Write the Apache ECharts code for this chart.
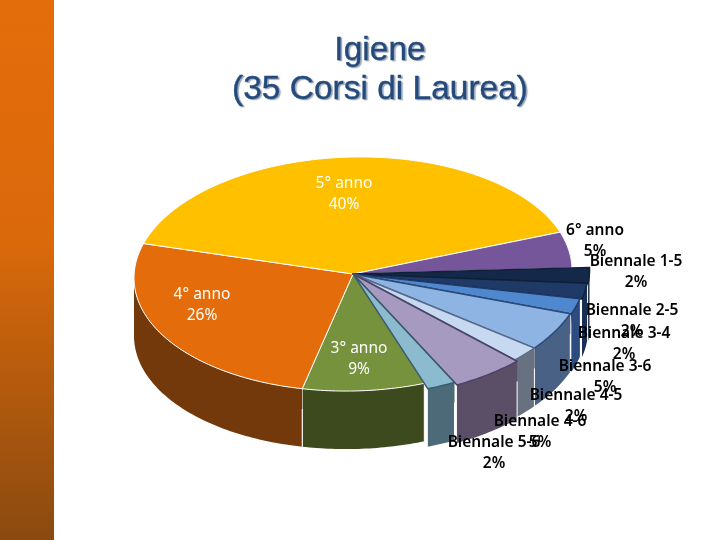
<!DOCTYPE html>
<html><head><meta charset="utf-8">
<style>html,body{margin:0;padding:0;background:#fff}#c{width:720px;height:540px}</style>
<script src="https://cdn.jsdelivr.net/npm/echarts@6/dist/echarts.min.js"></script>
</head><body><div id="c"></div>
<script>
const categories = ['3° anno','4° anno','5° anno','6° anno','Biennale 1-5','Biennale 2-5','Biennale 3-4','Biennale 3-6','Biennale 4-5','Biennale 4-6','Biennale 5-6'];
const values = [9,26,40,5,2,2,2,5,2,5,2];
const topColors = ['#76923C','#E46C0A','#FFC000','#75569A','#14294A','#1F3A66','#5088D0','#8DB4E2','#C6D9F1','#A69AC0','#8CBBCF'];
const wallColors = ['#3D4A1E','#74390A','#A67C00','#4A3566','#0E1D33','#1A2F55','#2C4B7E','#4A6186','#67717F','#5A4F66','#4C6A78'];
const edgeColors = ['#FFFFFF','#FFFFFF','#FFFFFF','#FFFFFF','#0F2038','#0F2038','#1F3A66','#2B4A78','#5A6A88','#4A4468','#3A5A68'];
const rimScale = [1,1,1,1,1.08,1.075,1.065,1.06,1.06,1.075,1.05];
const labelCenters = [[359,338],[202,284],[344,173],[595,220],[636,251],[632,300],[624,323],[605,356],[576,385],[540,411],[494,432]];
const labelColors = ['#fff','#fff','#fff','#000','#000','#000','#000','#000','#000','#000','#000'];

const CX=353, CY=274, A=219, B=117, DEPTH=58, START=161, SHEAR=0.018;
const total = values.reduce((a,b)=>a+b,0);
function span(i){let s=START;for(let k=0;k<i;k++)s+=values[k]/total*360;return [s,s+values[i]/total*360];}
function pt(deg,scale,dy){const r=deg*Math.PI/180,dx=A*scale*Math.sin(r);return [CX+dx,CY-B*scale*Math.cos(r)-SHEAR*dx+(dy||0)];}
function arc(t0,t1,scale,dy){const p=[];const n=Math.max(2,Math.ceil(Math.abs(t1-t0)));for(let i=0;i<=n;i++)p.push(pt(t0+(t1-t0)*i/n,scale,dy));return p;}

function wallItem(params,api){
  const i=api.value(0),[a,b]=span(i),s=rimScale[i],kids=[];
  [[a,b],[a-360,b-360]].forEach(([x,y])=>{
    const t0=Math.max(x,80),t1=Math.min(y,270);
    if(t1<=t0)return;
    const up=arc(t0,t1,s,0),down=arc(t1,t0,s,DEPTH);
    kids.push({type:'polygon',shape:{points:up.concat(down)},style:{fill:wallColors[i]}});
    if(t0>110||i===0){
      const p0=pt(t0,s,0);
      kids.push({type:'line',shape:{x1:p0[0],y1:p0[1]+(i===0?0:DEPTH*0.35),x2:p0[0],y2:p0[1]+DEPTH},style:{stroke:'#fff',lineWidth:1}});
    }
    if(i===0){
      const p1=pt(t1,s,0);
      kids.push({type:'line',shape:{x1:p1[0],y1:p1[1],x2:p1[0],y2:p1[1]+DEPTH},style:{stroke:'#fff',lineWidth:1}});
    }
  });
  return {type:'group',children:kids};
}
function topItem(params,api){
  const i=api.value(0),[a,b]=span(i);
  return {type:'polygon',shape:{points:[[CX,CY]].concat(arc(a,b,rimScale[i],0))},
    style:{fill:topColors[i],stroke:edgeColors[i],lineWidth:i<4?1:1.5,lineJoin:'round'}};
}
function labelItem(params,api){
  const i=api.value(0),c=labelCenters[i];
  const weight=labelColors[i]==='#fff'?400:600;
  return {type:'text',style:{text:categories[i]+'\n'+values[i]+'%',x:c[0],y:c[1],
    textAlign:'center',textVerticalAlign:'top',fill:labelColors[i],font:weight+' 15.5px "Noto Sans"',lineHeight:21}};
}
const rows=values.map((v,i)=>[i,v]);
const chart=echarts.init(document.getElementById('c'),null,{renderer:'canvas'});
chart.setOption({
  animation:false,
  backgroundColor:'#fff',
  title:{text:'Igiene\n(35 Corsi di Laurea)',left:375,top:26,textAlign:'center',
    textStyle:{fontFamily:'Liberation Sans',fontSize:33.5,fontWeight:'normal',color:'#234A7A',lineHeight:39,
      textBorderColor:'#234A7A',textBorderWidth:0.4,
      textShadowColor:'rgba(120,135,160,0.75)',textShadowBlur:1,textShadowOffsetX:1.5,textShadowOffsetY:1.5}},
  graphic:[{type:'rect',shape:{x:0,y:0,width:54,height:540},z:0,
    style:{fill:new echarts.graphic.LinearGradient(0,0,0,1,[{offset:0,color:'#E46C0A'},{offset:0.45,color:'#DA690B'},{offset:1,color:'#8A4A10'}])}}],
  series:[
    {type:'custom',coordinateSystem:'none',data:rows,renderItem:wallItem,silent:true,z:2},
    {type:'custom',coordinateSystem:'none',data:rows,renderItem:topItem,silent:true,z:3},
    {type:'custom',coordinateSystem:'none',data:rows,renderItem:labelItem,silent:true,z:4}
  ]
});
</script></body></html>
